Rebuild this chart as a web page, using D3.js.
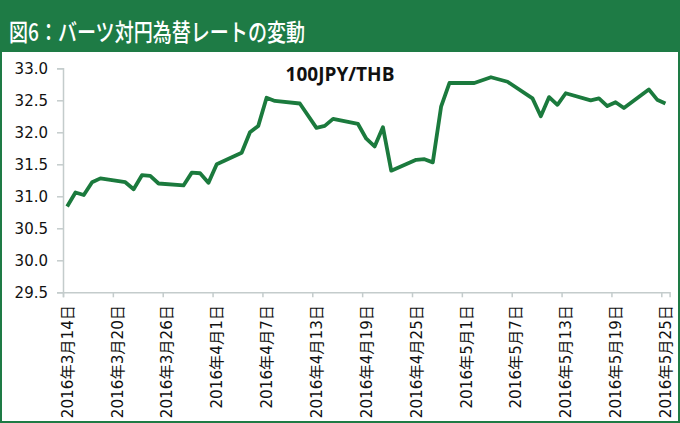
<!DOCTYPE html>
<html>
<head>
<meta charset="utf-8">
<script src="https://cdn.jsdelivr.net/npm/d3@7"></script>
<style>
  body { margin: 0; background: #fff; }
  svg { display: block; }
</style>
</head>
<body>
<div id="chart"></div>
<script>
const title = "図6：バーツ対円為替レートの変動";
const seriesName = "100JPY/THB";

// trading days and rates
const dates = [
  "2016-03-14", "2016-03-15", "2016-03-16", "2016-03-17", "2016-03-18",
  "2016-03-21", "2016-03-22", "2016-03-23", "2016-03-24", "2016-03-25",
  "2016-03-28", "2016-03-29", "2016-03-30", "2016-03-31", "2016-04-01",
  "2016-04-04", "2016-04-05", "2016-04-06", "2016-04-07", "2016-04-08",
  "2016-04-11", "2016-04-13", "2016-04-14", "2016-04-15",
  "2016-04-18", "2016-04-19", "2016-04-20", "2016-04-21", "2016-04-22",
  "2016-04-25", "2016-04-26", "2016-04-27", "2016-04-28", "2016-04-29",
  "2016-05-02", "2016-05-04", "2016-05-06",
  "2016-05-09", "2016-05-10", "2016-05-11", "2016-05-12", "2016-05-13",
  "2016-05-16", "2016-05-17", "2016-05-18", "2016-05-19", "2016-05-20",
  "2016-05-23", "2016-05-24", "2016-05-25"
];
const rates = [
  30.84, 31.06, 31.02, 31.22, 31.28,
  31.22, 31.11, 31.33, 31.32, 31.20,
  31.17, 31.37, 31.36, 31.21, 31.50,
  31.68, 32.00, 32.10, 32.54, 32.49,
  32.45, 32.07, 32.10, 32.21,
  32.13, 31.90, 31.78, 32.08, 31.40,
  31.57, 31.58, 31.53, 32.40, 32.77,
  32.77, 32.86, 32.79,
  32.53, 32.25, 32.55, 32.43, 32.61,
  32.50, 32.53, 32.41, 32.47, 32.38,
  32.67, 32.51, 32.45
];

const tickDates = [
  "2016-03-14", "2016-03-20", "2016-03-26", "2016-04-01", "2016-04-07",
  "2016-04-13", "2016-04-19", "2016-04-25", "2016-05-01", "2016-05-07",
  "2016-05-13", "2016-05-19", "2016-05-25"
];
const yTicks = [29.5, 30.0, 30.5, 31.0, 31.5, 32.0, 32.5, 33.0];

const width = 680;
const height = 423;
const green = "#1e7b45";
const lineGreen = "#1b7a3d";
const axisGray = "#c4cccc";

const parse = d3.utcParse("%Y-%m-%d");
const data = dates.map((d, i) => ({ date: parse(d), value: rates[i] }));

const svg = d3
  .select("#chart")
  .append("svg")
  .attr("width", width)
  .attr("height", height);

// frame and header band
svg.append("rect")
  .attr("x", 1).attr("y", 1)
  .attr("width", width - 2).attr("height", height - 2)
  .attr("fill", "#fff")
  .attr("stroke", green)
  .attr("stroke-width", 2);

svg.append("rect")
  .attr("x", 0).attr("y", 0)
  .attr("width", width).attr("height", 52)
  .attr("fill", green);

svg.append("text")
  .attr("x", 9)
  .attr("y", 41)
  .attr("fill", "#fff")
  .attr("font-family", "'Noto Sans CJK JP', sans-serif")
  .attr("font-size", 24)
  .attr("font-weight", 500)
  .attr("textLength", 296)
  .attr("lengthAdjust", "spacingAndGlyphs")
  .text(title);

// scales: dates sit in the middle of their day slot
const xScale = d3
  .scaleUtc()
  .domain([parse("2016-03-14"), parse("2016-05-26")])
  .range([63, 669.6]);

const yScale = d3
  .scaleLinear()
  .domain([29.5, 33.0])
  .range([292.3, 68.3]);

const halfDay = 12 * 60 * 60 * 1000;
const mid = (d) => new Date(d.getTime() + halfDay);

// y axis
const yAxis = svg.append("g")
  .attr("transform", "translate(63,0)")
  .call(d3.axisLeft(yScale).tickValues(yTicks).tickFormat(d3.format(".1f")).tickSize(6).tickPadding(9));

yAxis.select(".domain").attr("stroke", axisGray).attr("stroke-width", 1.5);
yAxis.selectAll(".tick line").attr("stroke", axisGray).attr("stroke-width", 1.5);
yAxis.selectAll(".tick text")
  .attr("fill", "#111")
  .attr("font-family", "'DejaVu Sans', sans-serif")
  .attr("font-size", 15);

// x axis
const xAxis = svg.append("g")
  .attr("transform", "translate(0,292.3)")
  .call(d3.axisBottom(xScale).tickValues(tickDates.map(parse)).tickSize(5).tickFormat(""));

xAxis.select(".domain").attr("stroke", axisGray).attr("stroke-width", 1.5);
xAxis.selectAll(".tick line").attr("stroke", axisGray).attr("stroke-width", 1.5);

const labelFmt = (d) => `${d.getUTCFullYear()}年${d.getUTCMonth() + 1}月${d.getUTCDate()}日`;

svg.append("g")
  .selectAll("text")
  .data(tickDates.map(parse))
  .join("text")
  .attr("transform", (d) => `translate(${xScale(mid(d)) + 5.5},305) rotate(-90)`)
  .attr("text-anchor", "end")
  .attr("fill", "#111")
  .attr("font-family", "'DejaVu Sans', 'Noto Sans CJK JP', sans-serif")
  .attr("font-size", 15.2)
  .text(labelFmt);

// series line
const line = d3
  .line()
  .x((d) => xScale(mid(d.date)))
  .y((d) => yScale(d.value));

svg.append("path")
  .datum(data)
  .attr("fill", "none")
  .attr("stroke", lineGreen)
  .attr("stroke-width", 3.8)
  .attr("stroke-linejoin", "round")
  .attr("d", line);

// series label
svg.append("text")
  .attr("x", 340)
  .attr("y", 81)
  .attr("text-anchor", "middle")
  .attr("fill", "#111")
  .attr("font-family", "'Open Sans', sans-serif")
  .attr("font-weight", "bold")
  .attr("font-size", 19)
  .text(seriesName);
</script>
</body>
</html>
